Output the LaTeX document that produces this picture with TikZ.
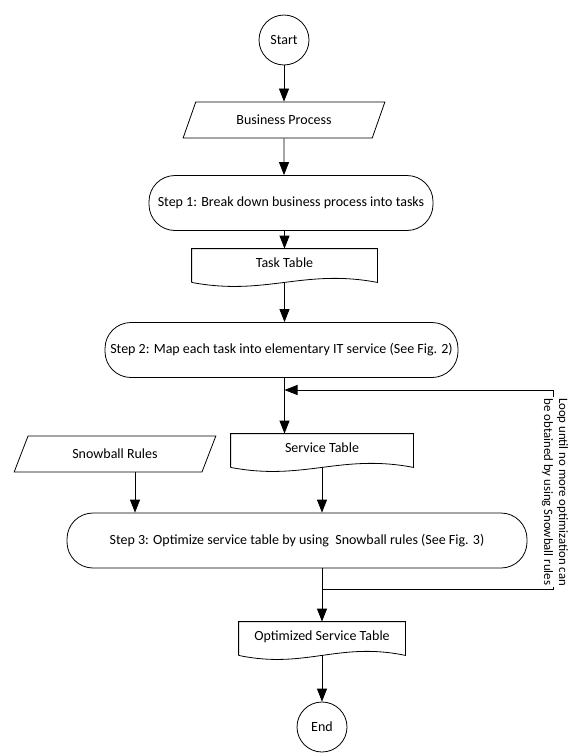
\documentclass[tikz,border=0pt]{standalone}
\usepackage{fontspec}
\setmainfont{Carlito}
\usetikzlibrary{calc,shapes.geometric,arrows.meta}
\tikzset{
  arr/.style={-{Triangle[length=13pt,width=10pt]}},
  term/.style={circle,draw,minimum size=50pt,inner sep=0pt},
  io/.style={trapezium,draw,trapezium left angle=66,trapezium right angle=114,trapezium stretches=true,minimum width=202pt,minimum height=36pt},
  proc/.style={rectangle,draw,rounded corners=26pt,minimum height=55pt},
  doc/.style={rectangle,minimum height=33pt,text height=8pt,text depth=5pt},
}
\newcommand{\docline}[1]{\draw (#1.south west) -- (#1.north west) -- (#1.north east) -- (#1.south east) .. controls ($(#1.south east)!0.4!(#1.south west)+(0,-14)$) and ($(#1.south west)!0.4!(#1.south east)+(0,14)$) .. (#1.south west);}

\begin{document}
\begin{tikzpicture}[x=1pt,y=-1pt,line width=0.8pt,font=\fontsize{14}{16}\selectfont]
      \useasboundingbox (0,0) rectangle (571,755);
      \node[term] (start) at (284,40) {Start};
      \node[io] (bp) at (284,120) {Business Process};
      \node[proc,minimum width=284pt] (s1) at (291,203) {Step 1: Break down business process into tasks};
      \node[doc,minimum width=185pt] (tt) at (284.5,265.5) {Task Table};
      \docline{tt}
      \node[proc,minimum width=353pt] (s2) at (281.5,350) {Step 2: Map each task into elementary IT service (See Fig. 2)};
      \node[io] (sr) at (115,454) {Snowball Rules};
      \node[doc,minimum width=182pt] (st) at (322,450.5) {Service Table};
      \docline{st}
      \node[proc,minimum width=460pt] (s3) at (297,540.5) {Step 3: Optimize service table by using\ \ Snowball rules (See Fig. 3)};
      \node[doc,minimum width=166pt] (ost) at (322,638.5) {Optimized Service Table};
      \docline{ost}
      \node[term] (end) at (322,727) {End};
      \draw[arr] (start) -- (bp);
      \draw[arr] (bp) -- (s1.north -| bp);
      \draw[arr] (s1.south -| tt) -- (tt);
      \draw[arr] (tt.south) -- (s2.north -| tt);
      \draw[arr] (s2.south -| tt) -- (st.north -| tt);
      \draw[arr] ([xshift=20pt]sr.south) -- ([xshift=20pt]sr.south |- s3.north);
      \draw[arr] (st.south) -- (s3.north -| st);
      \draw[arr] (s3.south -| ost) -- (ost);
      \draw[arr] (ost.south) -- (end);
      \coordinate (lpa) at (553,589);
      \coordinate (lpb) at (553,390);
      \draw[arr] (lpa -| ost) -- (lpa) -- (lpb) -- (lpb -| tt);
      \node[rotate=-90,fill=white,align=center,inner sep=1pt,font=\fontsize{12.8}{15}\selectfont] (note) at (555,492) {Loop until no more optimization can\\be obtained by using Snowball rules};
    \end{tikzpicture}
\end{document}
